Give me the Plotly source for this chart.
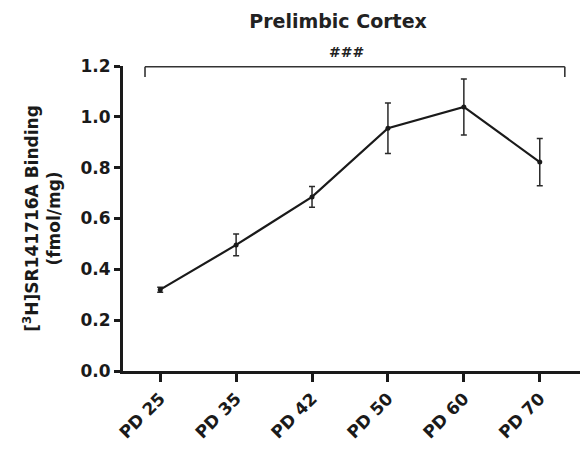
import plotly.graph_objects as go

# Postnatal day groups and mean binding with SEM
ages = ["PD 25", "PD 35", "PD 42", "PD 50", "PD 60", "PD 70"]
binding = [0.32, 0.496, 0.685, 0.955, 1.039, 0.822]
sem = [0.01, 0.043, 0.041, 0.099, 0.11, 0.093]

# Significance bracket spanning all groups
bracket_start, bracket_end = -0.2, 5.33
bracket_top, bracket_drop = 1.197, 1.157
bracket_label = "###"

FONT = "DejaVu Sans"
INK = "#1a1a1a"

fig = go.Figure()
fig.add_trace(go.Scatter(
    x=list(range(len(ages))), y=binding,
    mode="lines+markers",
    line=dict(color=INK, width=2.2),
    marker=dict(color=INK, size=5),
    error_y=dict(type="data", array=sem, visible=True,
                 color="#2a2a2a", thickness=1.5, width=3),
    showlegend=False,
))

for x0, x1, y0, y1 in [
    (bracket_start, bracket_start, bracket_drop, bracket_top),
    (bracket_start, bracket_end, bracket_top, bracket_top),
    (bracket_end, bracket_end, bracket_drop, bracket_top),
]:
    fig.add_shape(type="line", xref="x", yref="y", x0=x0, x1=x1, y0=y0, y1=y1,
                  line=dict(color="#333333", width=1.6))

fig.add_annotation(x=(bracket_start + bracket_end) / 2, y=bracket_top,
                   xref="x", yref="y", text=bracket_label, showarrow=False,
                   yanchor="bottom", yshift=5, xshift=-8,
                   font=dict(family=FONT, size=14, color="#222222", weight="bold"))

fig.update_layout(
    width=588, height=456,
    margin=dict(l=123, r=8, t=66, b=85),
    paper_bgcolor="white", plot_bgcolor="white",
    title=dict(text="Prelimbic Cortex", x=338 / 588, xanchor="center",
               y=1 - 21 / 456, yanchor="middle",
               font=dict(family=FONT, size=19, color="#222222", weight="bold")),
    font=dict(family=FONT, color=INK),
)

fig.update_xaxes(
    tickmode="array", tickvals=list(range(len(ages))), ticktext=ages,
    range=[-0.49, 5.53], showline=True, linecolor=INK, linewidth=3,
    ticks="outside", ticklen=8, tickwidth=3, tickcolor=INK,
    tickangle=-45, showgrid=False, zeroline=False,
    tickfont=dict(family=FONT, size=17, color=INK, weight="bold"),
)
fig.update_yaxes(
    range=[0, 1.2], tickvals=[0, 0.2, 0.4, 0.6, 0.8, 1.0, 1.2], tickformat=".1f",
    showline=True, linecolor=INK, linewidth=3,
    ticks="outside", ticklen=6, tickwidth=3, tickcolor=INK,
    showgrid=False, zeroline=False,
    tickfont=dict(family=FONT, size=17, color=INK, weight="bold"),
    title=dict(text="[<sup>3</sup>H]SR141716A Binding<br>(fmol/mg)", standoff=16,
               font=dict(family=FONT, size=17, color=INK, weight="bold")),
)

fig.write_html("out.html")
